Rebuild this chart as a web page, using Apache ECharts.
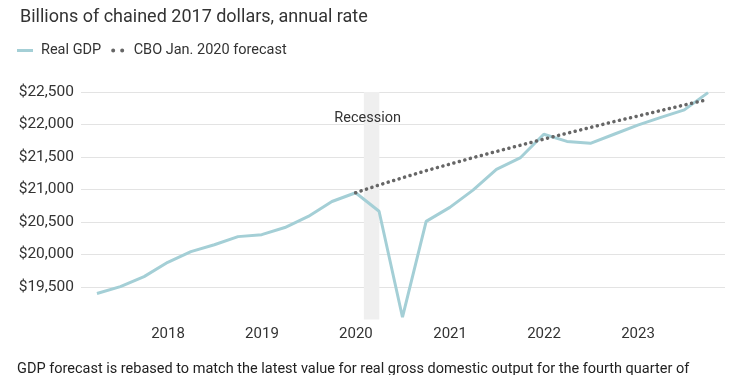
<!DOCTYPE html>
<html>
<head>
<meta charset="utf-8">
<style>
  html, body { margin: 0; padding: 0; background: #fff; }
  #chart { width: 750px; height: 375px; }
</style>
<script src="https://cdn.jsdelivr.net/npm/echarts@6/dist/echarts.min.js"></script>
</head>
<body>
<div id="chart"></div>
<script>
// quarter-end dates
var quarters = [
    '2017-03-31', '2017-06-30', '2017-09-30', '2017-12-31',
    '2018-03-31', '2018-06-30', '2018-09-30', '2018-12-31',
    '2019-03-31', '2019-06-30', '2019-09-30', '2019-12-31',
    '2020-03-31', '2020-06-30', '2020-09-30', '2020-12-31',
    '2021-03-31', '2021-06-30', '2021-09-30', '2021-12-31',
    '2022-03-31', '2022-06-30', '2022-09-30', '2022-12-31',
    '2023-03-31', '2023-06-30', '2023-09-30'
];
var realGdp = [
    19400, 19505, 19660, 19880,
    20045, 20150, 20275, 20305,
    20415, 20585, 20815, 20950,
    20665, 19035, 20510, 20725,
    20990, 21310, 21485, 21850,
    21740, 21710, 21850, 21990,
    22110, 22225, 22490
];
// CBO forecast starts at 2019 Q4
var forecastStart = 11;
var cboForecast = [
    20950,
    21070, 21180, 21290, 21390,
    21490, 21585, 21680, 21775,
    21865, 21955, 22045, 22130,
    22215, 22300, 22385
];
var yTicks = [19000, 22500, 500];
var recession = ['2020-02-01', '2020-04-01'];

var font = 'Roboto, "Liberation Sans", sans-serif';
var chart = echarts.init(document.getElementById('chart'));

var gdpData = quarters.map(function (q, i) { return [q, realGdp[i]]; });
var cboData = cboForecast.map(function (v, i) { return [quarters[forecastStart + i], v]; });

var option = {
    animation: false,
    textStyle: { fontFamily: font },
    title: {
        text: 'Billions of chained 2017 dollars, annual rate',
        left: 15,
        top: 3,
        textStyle: { fontSize: 18, fontWeight: 'normal', color: '#333', fontFamily: font }
    },
    legend: {
        left: 17,
        top: 43,
        padding: 0,
        itemWidth: 16,
        itemHeight: 4,
        itemGap: 10,
        textStyle: { fontSize: 14.5, color: '#333', padding: [0, 0, 0, 3] },
        data: [
            { name: 'Real GDP', icon: 'path://M0,0.5H16V3.5H0Z' },
            { name: 'CBO Jan. 2020 forecast', icon: 'path://M2,0A2,2,0,1,1,2,4A2,2,0,1,1,2,0ZM11,0A2,2,0,1,1,11,4A2,2,0,1,1,11,0Z' }
        ]
    },
    grid: { left: 81, right: 25, top: 92, bottom: 55.5 },
    xAxis: {
        type: 'time',
        min: '2017-01-28',
        max: '2023-12-05',
        minInterval: 365 * 24 * 3600 * 1000,
        axisLine: { show: false },
        axisTick: { show: false },
        splitLine: { show: false },
        axisLabel: {
            formatter: '{yyyy}',
            color: '#333',
            fontSize: 15,
            margin: 7,
            showMinLabel: false,
            showMaxLabel: false
        }
    },
    yAxis: {
        type: 'value',
        min: yTicks[0],
        max: yTicks[1],
        interval: yTicks[2],
        axisLine: { show: false },
        axisTick: { show: false },
        splitLine: { showMinLine: false, lineStyle: { color: '#e3e3e3', width: 1 } },
        axisLabel: {
            color: '#333',
            fontSize: 15.5,
            margin: 7,
            formatter: function (v) {
                if (v === yTicks[0]) return '';
                return '$' + v.toLocaleString('en-US');
            }
        }
    },
    series: [
        {
            name: 'Real GDP',
            type: 'line',
            data: gdpData,
            symbol: 'none',
            color: '#a4cfd6',
            lineStyle: { width: 3, color: '#a4cfd6' },
            z: 2,
            markArea: {
                silent: true,
                itemStyle: { color: '#efefef' },
                label: {
                    show: true,
                    position: 'insideTop',
                    distance: 19,
                    offset: [-4, 0],
                    color: '#333',
                    fontSize: 14.5
                },
                data: [[{ name: 'Recession', xAxis: recession[0] }, { xAxis: recession[1] }]]
            }
        },
        {
            name: 'CBO Jan. 2020 forecast',
            type: 'line',
            data: cboData,
            symbol: 'none',
            color: '#666',
            lineStyle: { width: 3.5, color: '#666', type: [0.1, 5.6], cap: 'round' },
            z: 3
        }
    ],
    graphic: [{
        type: 'text',
        left: 17,
        top: 362,
        style: {
            text: 'GDP forecast is rebased to match the latest value for real gross domestic output for the fourth quarter of',
            fontSize: 14.5,
            fontFamily: font,
            fill: '#222'
        }
    }]
};
chart.setOption(option);
</script>
</body>
</html>
